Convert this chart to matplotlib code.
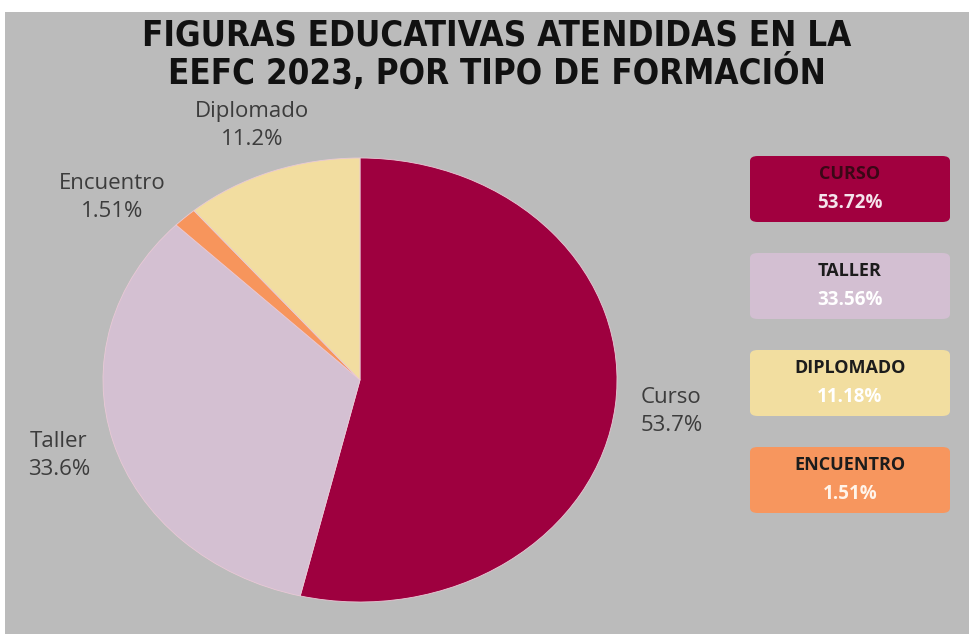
import matplotlib
matplotlib.use("Agg")
import matplotlib.pyplot as plt
from matplotlib.patches import Rectangle, FancyBboxPatch

# datos (orden del pastel, en sentido horario desde las 12)
categorias = ["Curso", "Taller", "Encuentro", "Diplomado"]
porcentajes = [53.72, 33.56, 1.51, 11.18]
colores = ["#9e003f", "#d4c0d2", "#f7955c", "#f2dda0"]

# leyenda de la derecha (orden de arriba a abajo)
leyenda_nombres = ["CURSO", "TALLER", "DIPLOMADO", "ENCUENTRO"]
leyenda_valores = [53.72, 33.56, 11.18, 1.51]
leyenda_fondos = ["#a1003f", "#d3bfd2", "#f2dea0", "#f7965e"]
leyenda_txt_nombre = ["#3a0716", "#1c1c1c", "#1c1c1c", "#1c1c1c"]
leyenda_txt_valor = ["#f5e4ec", "#ffffff", "#ffffff", "#fff4ea"]

titulo = "FIGURAS EDUCATIVAS ATENDIDAS EN LA\nEEFC 2023, POR TIPO DE FORMACIÓN"

W, H = 969, 634
fig = plt.figure(figsize=(W / 100, H / 100), dpi=100)
fig.patch.set_facecolor("white")
fig.patches.append(Rectangle((5 / W, 0), 1 - 5 / W, 1 - 12 / H, transform=fig.transFigure,
                             facecolor="#bbbbbb", edgecolor="none", zorder=-5))

# pastel (ligeramente achatado como en la imagen original)
ax = fig.add_axes([103 / W, 32 / H, 514 / W, 444 / H], zorder=2)
etiquetas = [f"{c}\n{p:.3g}%" for c, p in zip(categorias, porcentajes)]
wedges, texts = ax.pie(porcentajes, labels=etiquetas, colors=colores, startangle=90,
                       counterclock=False, labeldistance=1.22,
                       wedgeprops={"edgecolor": "#e9c9d6", "linewidth": 0.6},
                       textprops={"fontsize": 16, "color": "#3c3c3c", "family": "Open Sans",
                                  "ha": "center", "va": "center", "linespacing": 1.45})
# la etiqueta de la rebanada pequeña queda un poco más afuera en el original
xe, ye = texts[2].get_position()
texts[2].set_position((xe * 1.16, ye * 0.92))
ax.set_xlim(-1, 1)
ax.set_ylim(-1, 1)
ax.set_aspect("auto")
ax.patch.set_visible(False)

fig.text(497 / W, 1 - 55 / H, titulo, ha="center", va="center", fontsize=25,
         fontweight="bold", family="DejaVu Sans", fontstretch="condensed",
         color="#111111", linespacing=1.0)

# cajas de la leyenda
x0, x1 = 750, 950
for i, (nom, val) in enumerate(zip(leyenda_nombres, leyenda_valores)):
    top = 156 + i * 97
    h = 66
    box = FancyBboxPatch((x0 / W, 1 - (top + h) / H), (x1 - x0) / W, h / H,
                         boxstyle="round,pad=0,rounding_size=0.008",
                         transform=fig.transFigure, facecolor=leyenda_fondos[i],
                         edgecolor="none", zorder=1)
    fig.patches.append(box)
    xc = (x0 + x1) / 2 / W
    fig.text(xc, 1 - (top + 18) / H, nom, ha="center", va="center", fontsize=13,
             fontweight="bold", family="Open Sans", color=leyenda_txt_nombre[i])
    fig.text(xc, 1 - (top + 47) / H, f"{val:.2f}%", ha="center", va="center", fontsize=13.5,
             fontweight="bold", family="Open Sans", color=leyenda_txt_valor[i])

fig.savefig("out.png", dpi=100, facecolor=fig.get_facecolor())
